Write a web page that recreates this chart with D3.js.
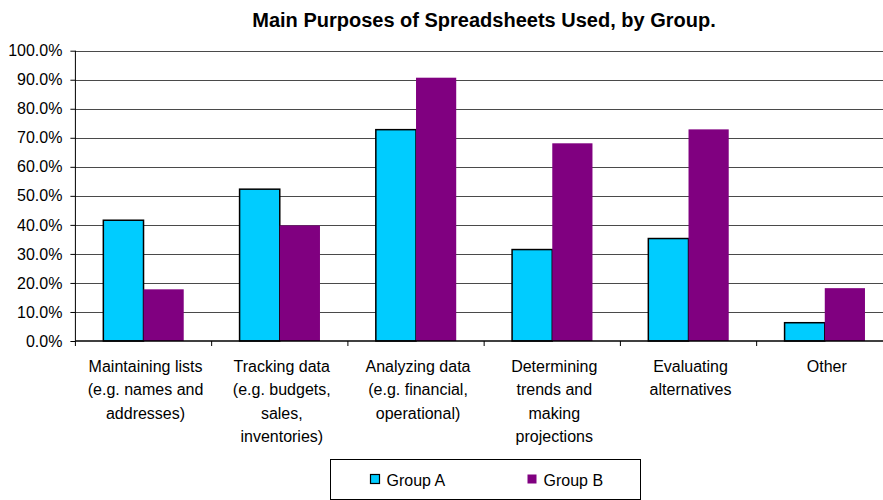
<!DOCTYPE html>
<html lang="en">
<head>
<meta charset="UTF-8">
<title>Main Purposes of Spreadsheets Used</title>
<script src="https://cdn.jsdelivr.net/npm/d3@7"></script>
<style>
  body { margin: 0; background: #fff; }
  svg text { font-family: "Liberation Sans", Arial, sans-serif; fill: #000; }
</style>
</head>
<body>
<script>
// data
const categories = [
    ["Maintaining lists", "(e.g. names and", "addresses)"],
    ["Tracking data", "(e.g. budgets,", "sales,", "inventories)"],
    ["Analyzing data", "(e.g. financial,", "operational)"],
    ["Determining", "trends and", "making", "projections"],
    ["Evaluating", "alternatives"],
    ["Other"]
]
const groups = ["Group A", "Group B"]
const groupA = [41.6, 52.3, 72.8, 31.5, 35.3, 6.3]
const groupB = [17.8, 39.8, 90.7, 68.1, 72.9, 18.2]
const yTicks = [0, 10, 20, 30, 40, 50, 60, 70, 80, 90, 100]
const colours = ["#00CCFF", "#800080"]

const w = 883, h = 500
const plotLeft = 75.4, plotTop = 50.7, plotBottom = 341
const bandW = 136.25

const svg = d3.select("body").append("svg").attr("width", w).attr("height", h)

// title
svg.append("text")
    .attr("x", 484).attr("y", 26.5)
    .attr("text-anchor", "middle")
    .style("font-size", "20px").style("font-weight", "bold")
    .text("Main Purposes of Spreadsheets Used, by Group.")

const keys = categories.map((c, i) => i)
const x0 = d3.scaleBand().domain(keys).range([plotLeft, plotLeft + bandW * keys.length])
const x1 = d3.scaleBand().domain(groups).range([bandW * 0.205, bandW * 0.795])
const y = d3.scaleLinear().domain([0, 100]).range([plotBottom, plotTop])

// gridlines
svg.append("g")
    .selectAll("line")
    .data(yTicks.filter(d => d > 0))
    .enter().append("line")
    .attr("x1", plotLeft).attr("x2", w)
    .attr("y1", d => Math.round(y(d)) + 0.5)
    .attr("y2", d => Math.round(y(d)) + 0.5)
    .attr("stroke", "#4a4a4a")

// bars
const rows = keys.map(i => ({i: i, vals: [groupA[i], groupB[i]]}))
const cat = svg.append("g").selectAll("g")
    .data(rows).enter().append("g")
    .attr("transform", d => `translate(${x0(d.i)},0)`)

cat.selectAll("rect")
    .data(d => d.vals.map((v, j) => ({g: groups[j], v: v, j: j})))
    .enter().append("rect")
    .attr("x", d => x1(d.g))
    .attr("y", d => y(d.v))
    .attr("width", x1.bandwidth())
    .attr("height", d => plotBottom - y(d.v))
    .attr("fill", d => colours[d.j])
    .attr("stroke", d => d.j == 0 ? "#000" : "none")
    .attr("stroke-width", 1.5)

// y axis
const yAxis = d3.axisLeft(y).tickValues(yTicks).tickSize(5).tickPadding(8)
    .tickFormat(d => d.toFixed(1) + "%")
const gy = svg.append("g").attr("transform", `translate(${plotLeft},0)`).call(yAxis)
gy.selectAll("text").style("font-size", "16px")
gy.select(".domain").attr("d", `M0,${plotTop}V${plotBottom}`).attr("stroke", "#000")
gy.selectAll(".tick line").attr("stroke", "#000")

// x axis: baseline and ticks at band boundaries
svg.append("line")
    .attr("x1", plotLeft).attr("x2", w)
    .attr("y1", plotBottom).attr("y2", plotBottom)
    .attr("stroke", "#000").attr("stroke-width", 1.3)
svg.append("g").selectAll("line")
    .data(keys.concat([keys.length]))
    .enter().append("line")
    .attr("x1", d => plotLeft + d * bandW).attr("x2", d => plotLeft + d * bandW)
    .attr("y1", plotBottom).attr("y2", plotBottom + 5)
    .attr("stroke", "#000")

// category labels
svg.append("g").selectAll("text")
    .data(rows).enter().append("text")
    .attr("text-anchor", "middle")
    .style("font-size", "16px")
    .attr("transform", d => `translate(${x0(d.i) + bandW / 2 + 2},372)`)
    .selectAll("tspan")
    .data(d => categories[d.i])
    .enter().append("tspan")
    .attr("x", 0).attr("y", (d, i) => i * 23.3)
    .text(d => d)

// legend
const lg = svg.append("g").attr("transform", "translate(330.5,459.5)")
lg.append("rect").attr("width", 310).attr("height", 40)
    .attr("fill", "#fff").attr("stroke", "#000")
const item = lg.selectAll("g.item").data(groups).enter().append("g")
    .attr("class", "item")
    .attr("transform", (d, i) => `translate(${40 + i * 157},0)`)
item.append("rect")
    .attr("x", 0).attr("y", 15).attr("width", 9).attr("height", 9)
    .attr("fill", (d, i) => colours[i])
    .attr("stroke", (d, i) => i == 0 ? "#000" : "none")
    .attr("stroke-width", 1.2)
item.append("text")
    .attr("x", 16).attr("y", 26)
    .style("font-size", "16px")
    .text(d => d)
</script>
</body>
</html>
